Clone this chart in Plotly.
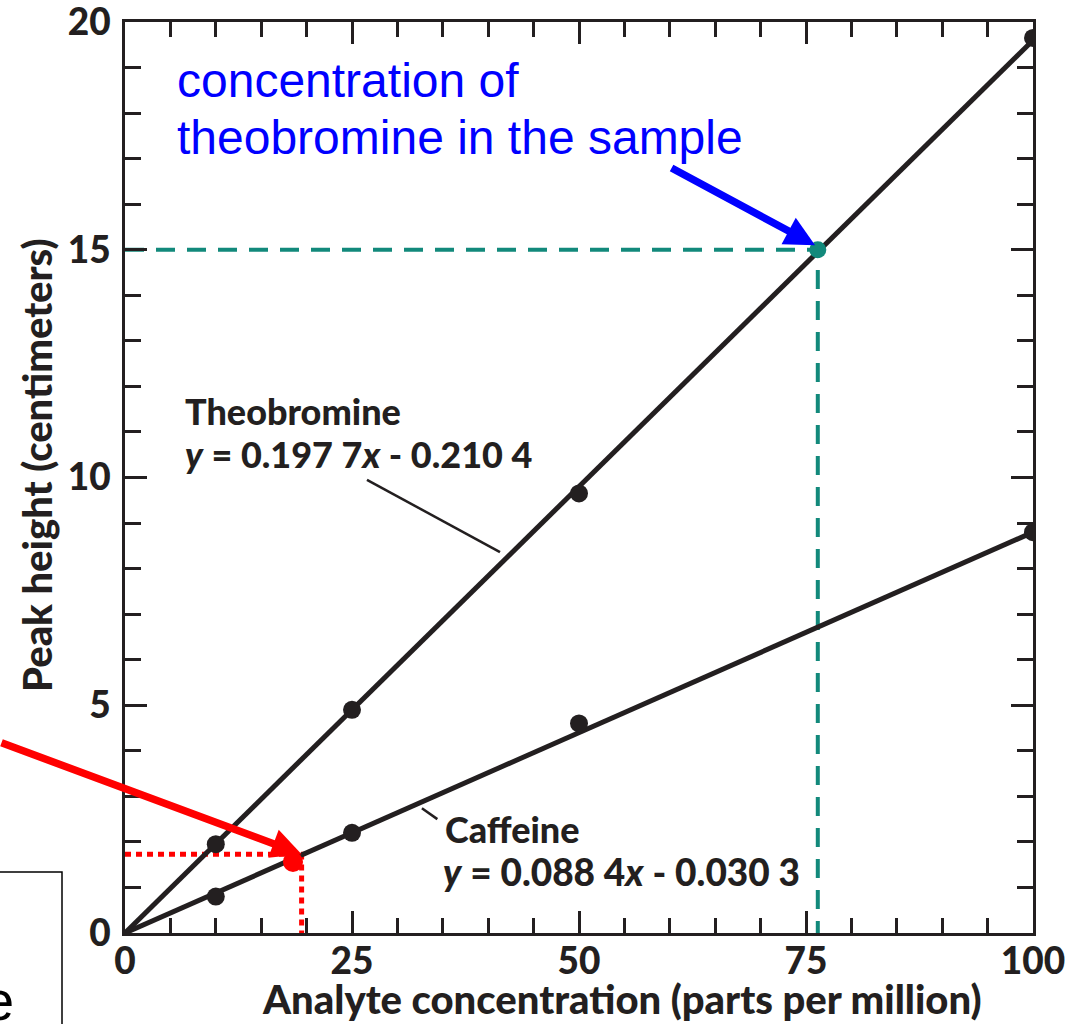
import plotly.graph_objects as go

# Calibration standards (ppm) and measured peak heights (cm)
standard_ppm = [10, 25, 50, 100]
theobromine_cm = [1.95, 4.9, 9.65, 19.65]
caffeine_cm = [0.8, 2.2, 4.6, 8.8]

# Calibration lines drawn from the origin to the top standard
line_ppm = [0, 100]
theobromine_line = [0, 19.6]
caffeine_line = [0, 8.8]

# Unknown sample
theobromine_sample = (76.3, 15.0)
caffeine_sample = (18.5, 1.56)
caffeine_guide = (19.45, 1.73)

x_ticks = [0, 25, 50, 75, 100]
y_ticks = [0, 5, 10, 15, 20]

INK = "#231f20"
TEAL = "#12897b"
LABEL_FONT = "Lato"

fig = go.Figure()

# dashed guides for theobromine sample
fig.add_trace(go.Scatter(
    x=[0, theobromine_sample[0], theobromine_sample[0]],
    y=[theobromine_sample[1], theobromine_sample[1], 0],
    mode="lines", line=dict(color=TEAL, width=4, dash="19px,12px"),
    hoverinfo="skip", showlegend=False))

# dotted guides for caffeine sample
fig.add_trace(go.Scatter(
    x=[0, caffeine_guide[0], caffeine_guide[0]],
    y=[caffeine_guide[1], caffeine_guide[1], 0],
    mode="lines", line=dict(color="#ff0000", width=5, dash="6px,5px"),
    hoverinfo="skip", showlegend=False))

for line_y, pts in [(theobromine_line, theobromine_cm), (caffeine_line, caffeine_cm)]:
    fig.add_trace(go.Scatter(x=line_ppm, y=line_y, mode="lines",
                             line=dict(color=INK, width=5),
                             showlegend=False, hoverinfo="skip"))
    fig.add_trace(go.Scatter(x=standard_ppm, y=pts, mode="markers",
                             marker=dict(color=INK, size=18),
                             showlegend=False))

fig.add_trace(go.Scatter(x=[theobromine_sample[0]], y=[theobromine_sample[1]],
                         mode="markers", marker=dict(color=TEAL, size=17),
                         showlegend=False))
fig.add_trace(go.Scatter(x=[caffeine_sample[0]], y=[caffeine_sample[1]],
                         mode="markers", marker=dict(color="#ff0000", size=20),
                         showlegend=False))

# plot frame geometry (pixels)
L, R, T, B = 125, 1033, 22, 933
W, H = 1075, 1024


def px(x):
    return (x - L) / (R - L)


def py(y):
    return (B - y) / (B - T)


axis_common = dict(
    showline=True, linecolor=INK, linewidth=3, mirror="ticks",
    ticks="inside", tickwidth=3, tickcolor=INK, ticklen=22,
    showgrid=False, zeroline=False, ticklabeloverflow="allow",
    tickfont=dict(family=LABEL_FONT, size=37, color=INK, weight=900),
)

fig.update_xaxes(range=[0, 100], tickvals=x_ticks, ticktext=[str(v) for v in x_ticks],
                 minor=dict(dtick=5, ticks="inside", ticklen=15, tickwidth=3,
                            tickcolor=INK, showgrid=False),
                 ticklabelstandoff=-6, **axis_common)
fig.update_yaxes(range=[0, 20], tickvals=y_ticks, ticktext=[str(v) for v in y_ticks],
                 minor=dict(dtick=1, ticks="inside", ticklen=16, tickwidth=3,
                            tickcolor=INK, showgrid=False),
                 ticklabelstandoff=4, **axis_common)

bold = dict(family=LABEL_FONT, size=36, color=INK, weight=900)
title_font = dict(family=LABEL_FONT, size=40, color=INK, weight=900)
blue = dict(family="Liberation Sans, Arial", size=48, color="#0000ff")

annotations = [
    # axis titles
    dict(text="Analyte concentration (parts per million)", x=px(622), y=py(999),
         xref="paper", yref="paper", showarrow=False, font=title_font,
         xanchor="center", yanchor="middle"),
    dict(text="Peak height (centimeters)", x=px(37), y=py(466), textangle=-90,
         xref="paper", yref="paper", showarrow=False, font=title_font,
         xanchor="center", yanchor="middle"),
    # series labels
    dict(text="Theobromine", x=px(183), y=py(411), xref="paper", yref="paper",
         showarrow=False, font=bold, xanchor="left", yanchor="middle"),
    dict(text="<i>y</i> = 0.197 7<i>x</i> - 0.210 4", x=px(183), y=py(454),
         xref="paper", yref="paper", showarrow=False, font=bold,
         xanchor="left", yanchor="middle"),
    dict(text="Caffeine", x=px(443), y=py(829), xref="paper", yref="paper",
         showarrow=False, font=bold, xanchor="left", yanchor="middle"),
    dict(text="<i>y</i> = 0.088 4<i>x</i> - 0.030 3", x=px(441), y=py(871),
         xref="paper", yref="paper", showarrow=False,
         font=dict(family=LABEL_FONT, size=37, color=INK, weight=900),
         xanchor="left", yanchor="middle"),
    # sample callout
    dict(text="concentration of", x=px(175), y=py(80), xref="paper", yref="paper",
         showarrow=False, font=blue, xanchor="left", yanchor="middle"),
    dict(text="theobromine in the sample", x=px(175), y=py(137), xref="paper",
         yref="paper", showarrow=False, font=blue, xanchor="left", yanchor="middle"),
    dict(text="", x=76.0, y=15.1, xref="x", yref="y", showarrow=True,
         ax=-145, ay=-78, axref="pixel", ayref="pixel",
         arrowhead=2, arrowsize=0.8, arrowwidth=7.5, arrowcolor="#0000ff"),
    dict(text="", x=caffeine_guide[0], y=caffeine_guide[1], xref="x", yref="y",
         showarrow=True, ax=-315, ay=-112, axref="pixel", ayref="pixel",
         arrowhead=2, arrowsize=0.8, arrowwidth=7.5, arrowcolor="#ff0000"),
    # partial text box at lower left
    dict(text="e", x=px(16), y=py(1000), xref="paper", yref="paper",
         showarrow=False, xanchor="right", yanchor="middle",
         font=dict(family="Liberation Sans, Arial", size=56, color="#000000")),
]

shapes = [
    # leader lines from labels to their calibration lines
    dict(type="line", xref="x", yref="y", x0=26.65, y0=9.95, x1=41.3, y1=8.36,
         line=dict(color=INK, width=2.5)),
    dict(type="line", xref="x", yref="y", x0=32.7, y0=2.74, x1=34.4, y1=2.50,
         line=dict(color=INK, width=2.5)),
    # text box frame
    dict(type="rect", xref="paper", yref="paper", x0=px(-20), x1=px(62),
         y0=py(1040), y1=py(872), line=dict(color="#000000", width=1.5)),
]

fig.update_layout(
    width=W, height=H,
    margin=dict(l=L, r=W - R, t=T, b=H - B, autoexpand=False),
    plot_bgcolor="white", paper_bgcolor="white",
    annotations=annotations, shapes=shapes, showlegend=False,
)

fig.write_html("out.html")
